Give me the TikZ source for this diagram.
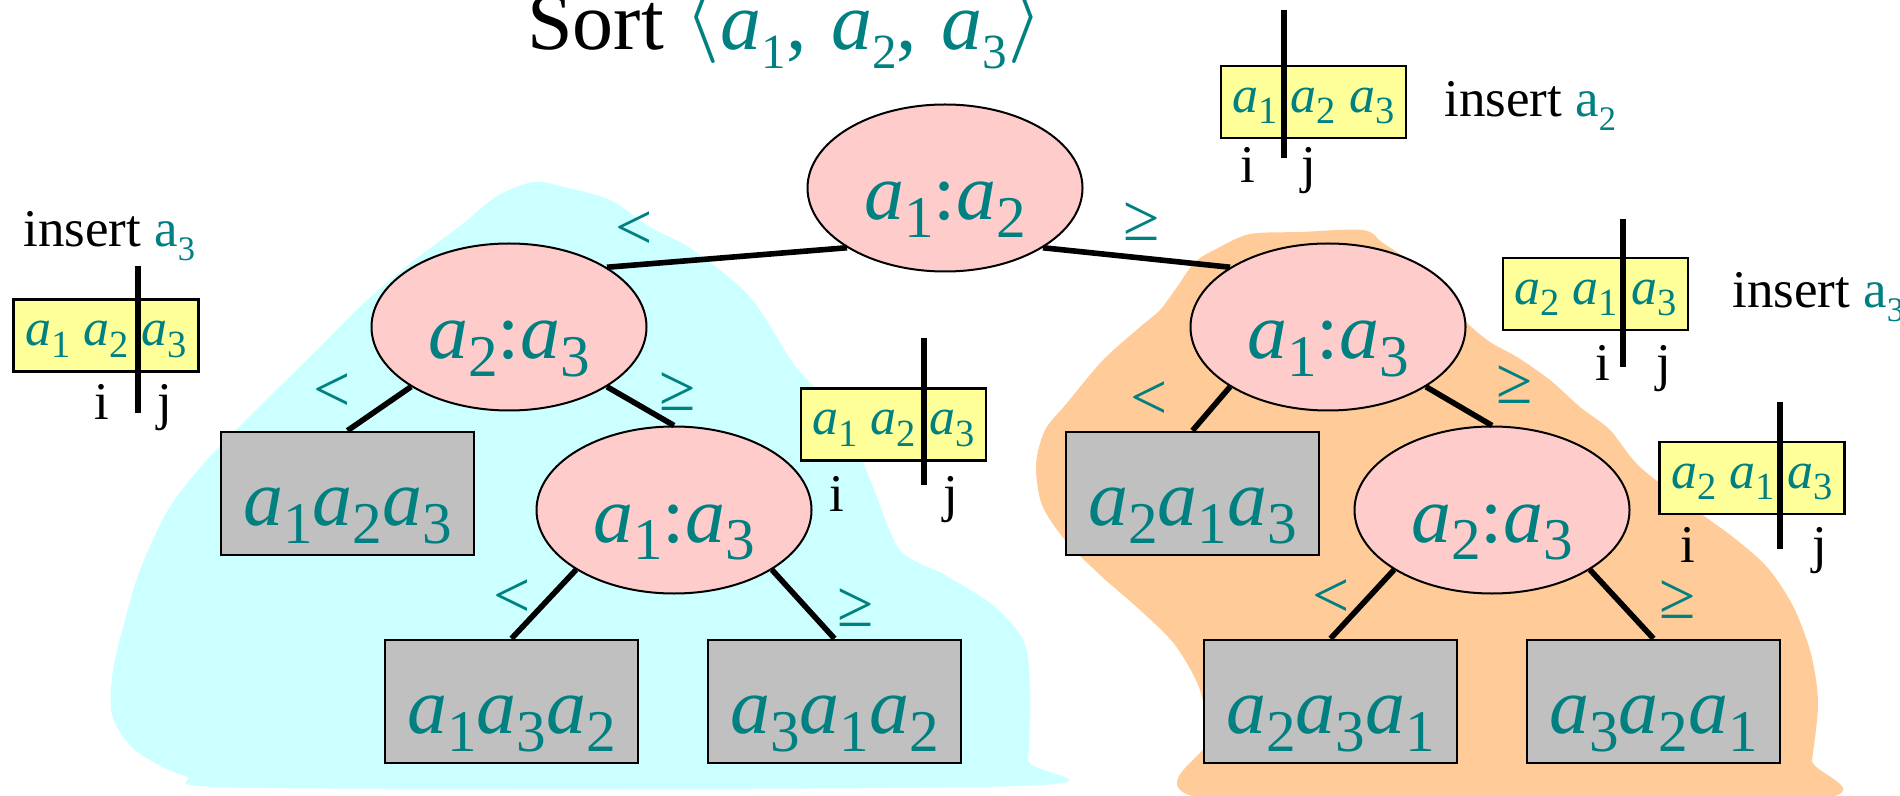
\documentclass[tikz,border=0pt]{standalone}
\usepackage{fontspec}
\setmainfont{Liberation Serif}
\usetikzlibrary{shapes.geometric}

\definecolor{verdeazul}{HTML}{008080}
\definecolor{rosa}{HTML}{FFCCCC}
\definecolor{gris}{HTML}{C0C0C0}
\definecolor{amarillo}{HTML}{FFFF99}
\definecolor{celeste}{HTML}{CCFFFF}
\definecolor{naranja}{HTML}{FFCC99}

% a_i en cursiva con subíndice recto
\newcommand{\ai}[2][0.74]{\textit{a}\raisebox{-0.22em}{\scalebox{#1}{#2}}}
\newcommand{\ins}[1]{insert {\color{verdeazul}a\raisebox{-0.25em}{\scalebox{0.65}{#1}}}}
\newcommand{\angulo}[1]{\raisebox{4.5pt}{\scalebox{1.85}{$#1$}}}

\begin{document}
\begin{tikzpicture}[x=0.5pt, y=-0.5pt,
    comp/.style={ellipse, draw, line width=1pt, fill=rosa, minimum width=137.5pt, minimum height=83.5pt,
        inner sep=0pt, text=verdeazul, font=\fontsize{40}{40}\selectfont, text height=34pt, text depth=2pt},
    hoja/.style={rectangle, draw, line width=1.4pt, fill=gris, minimum width=126.5pt, minimum height=61.5pt,
        inner sep=0pt, text=verdeazul, font=\fontsize{40}{40}\selectfont, text height=34pt, text depth=2pt},
    arreglo/.style={rectangle, draw, line width=1.3pt, fill=amarillo, minimum width=92.5pt, minimum height=36pt,
        inner sep=0pt, text=verdeazul, font=\fontsize{26}{26}\selectfont, text height=12.5pt, text depth=2pt},
    rama/.style={line width=2.8pt},
    corte/.style={line width=2.8pt},
    rel/.style={inner sep=0pt, text=verdeazul, font=\fontsize{33}{33}\selectfont},
    etiq/.style={inner sep=0pt, anchor=base, font=\fontsize{26.5}{26.5}\selectfont}]
    \useasboundingbox (0,0) rectangle (1900,796);

    % Regiones de fondo de cada subárbol.
    \fill[celeste] plot[smooth cycle, tension=0.5] coordinates {
        (533,182) (560,186) (610,200) (650,227) (693,250) (750,297) (793,363) (823,397) (853,440)
        (873,487) (900,550) (945,575) (994,606) (1024,642) (1030,690) (1028,760) (1020,786)
        (260,788) (185,776) (135,750) (112,715) (113,670) (125,620) (140,570) (168,510) (205,462)
        (258,408) (315,352) (364,303) (412,262) (460,226) (497,196)};
    \fill[naranja] plot[smooth cycle, tension=0.5] coordinates {
        (1218,248) (1250,234) (1300,232) (1363,230) (1383,243) (1410,262) (1440,295) (1467,323)
        (1490,342) (1517,357) (1550,380) (1580,407) (1610,430) (1640,467) (1700,513) (1733,537)
        (1767,567) (1793,606) (1811,654) (1818,703) (1812,760) (1805,800) (1215,800) (1208,740)
        (1200,690) (1175,645) (1140,610) (1100,575) (1065,540) (1042,505) (1036,465) (1045,430)
        (1067,403) (1103,360) (1140,327) (1160,310) (1177,287) (1195,262)};

    \node[anchor=base west, inner sep=0pt, font=\fontsize{41}{41}\selectfont] (titulo) at (527,50)
        {Sort {\color{verdeazul}\angulo{\langle}\ai[0.6]{1},\hspace{0.3em}\ai[0.6]{2},\hspace{0.3em}\ai[0.6]{3}\angulo{\rangle}}};

    % Comparaciones y hojas.
    \node[comp] (raiz) at (945,188) {\ai{1}:\ai{2}};
    \node[comp] (izq) at (509,327) {\ai{2}:\ai{3}};
    \node[comp] (der) at (1328,327) {\ai{1}:\ai{3}};
    \node[comp] (izqder) at (674,510) {\ai{1}:\ai{3}};
    \node[comp] (derder) at (1492,510) {\ai{2}:\ai{3}};
    \node[hoja] (h123) at (347.5,493.5) {\ai{1}\ai{2}\ai{3}};
    \node[hoja] (h132) at (511.5,701.5) {\ai{1}\ai{3}\ai{2}};
    \node[hoja] (h312) at (834.5,701.5) {\ai{3}\ai{1}\ai{2}};
    \node[hoja] (h213) at (1192.5,493.5) {\ai{2}\ai{1}\ai{3}};
    \node[hoja] (h231) at (1330.5,701.5) {\ai{2}\ai{3}\ai{1}};
    \node[hoja] (h321) at (1653.5,701.5) {\ai{3}\ai{2}\ai{1}};

    \draw[rama] (raiz.south west) -- (izq.north east);
    \draw[rama] (raiz.south east) -- (der.north west);
    \draw[rama] (izq.south west) -- (h123.north);
    \draw[rama] (izq.south east) -- (izqder.north);
    \draw[rama] (izqder.south west) -- (h132.north);
    \draw[rama] (izqder.south east) -- (h312.north);
    \draw[rama] (der.south west) -- (h213.north);
    \draw[rama] (der.south east) -- (derder.north);
    \draw[rama] (derder.south west) -- (h231.north);
    \draw[rama] (derder.south east) -- (h321.north);

    \node[rel] (m1) at (634,231) {<};
    \node[rel] (g1) at (1142,222) {≥};
    \node[rel] (m2) at (332,393) {<};
    \node[rel] (g2) at (678,392) {≥};
    \node[rel] (m3) at (512,599) {<};
    \node[rel] (g3) at (856,608) {≥};
    \node[rel] (m4) at (1149,401) {<};
    \node[rel] (g4) at (1515,385) {≥};
    \node[rel] (m5) at (1331,599) {<};
    \node[rel] (g5) at (1678,600) {≥};

    % Arreglos con los índices i, j.
    \node[arreglo] (arr1) at (1313.5,102) {\ai{1} \ai{2} \ai{3}};
    \draw[corte] (1284,10) -- (1284,158);
    \node[etiq] (i1) at (1248,183) {i};
    \node[etiq] (j1) at (1309,183) {j};
    \node[etiq, anchor=base west] (ins1) at (1444,117) {\ins{2}};

    \node[arreglo] (arr2) at (1595.5,294) {\ai{2} \ai{1} \ai{3}};
    \draw[corte] (1623,219) -- (1623,367);
    \node[etiq] (i2) at (1603,380) {i};
    \node[etiq] (j2) at (1664,380) {j};
    \node[etiq, anchor=base west] (ins2) at (1732,308) {\ins{3}};

    \node[arreglo] (arr3) at (1752,478) {\ai{2} \ai{1} \ai{3}};
    \draw[corte] (1780,402) -- (1780,549);
    \node[etiq] (i3) at (1688,562) {i};
    \node[etiq] (j3) at (1820,562) {j};

    \node[arreglo] (arr4) at (106,335.5) {\ai{1} \ai{2} \ai{3}};
    \draw[corte] (138,266) -- (138,413);
    \node[etiq] (i4) at (102,420) {i};
    \node[etiq] (j4) at (165,420) {j};
    \node[etiq, anchor=base west] (ins4) at (23,247) {\ins{3}};

    \node[arreglo] (arr5) at (893.5,424.5) {\ai{1} \ai{2} \ai{3}};
    \draw[corte] (924,338) -- (924,485);
    \node[etiq] (i5) at (837,511) {i};
    \node[etiq] (j5) at (951,511) {j};
\end{tikzpicture}
\end{document}
